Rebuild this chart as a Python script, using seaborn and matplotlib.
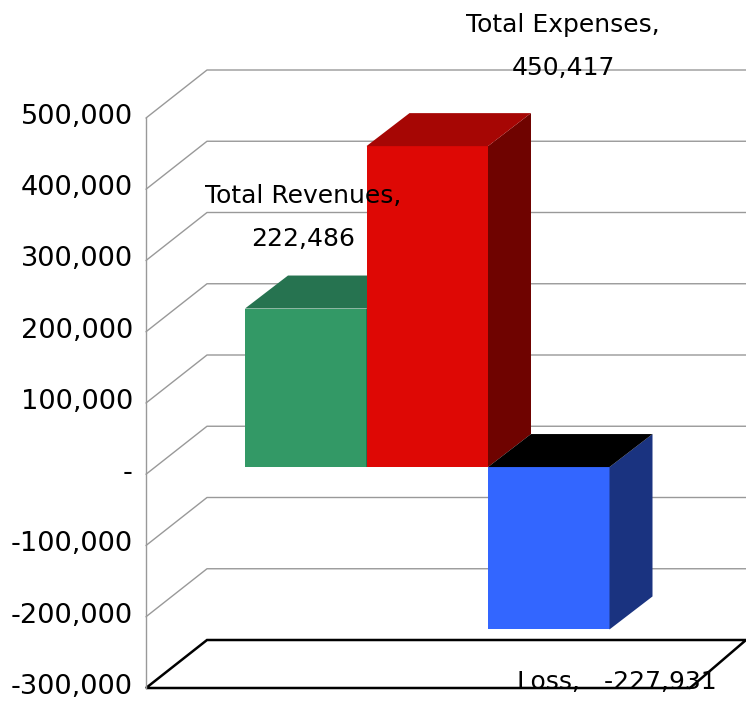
import matplotlib
matplotlib.use("Agg")
import matplotlib.pyplot as plt
from matplotlib.patches import Polygon
from matplotlib.ticker import FuncFormatter
from matplotlib.transforms import ScaledTranslation
import pandas as pd
import seaborn as sns

# DATA
categories = ['Total Revenues', 'Total Expenses', 'Loss']
values = [222486, 450417, -227931]
tick_values = [-300000, -200000, -100000, 0, 100000, 200000, 300000, 400000, 500000]

# COLOURS
front_colors = ['#339966', '#DE0805', '#3366FF']
top_colors = ['#267350', '#A60604', '#000000']
side_colors = ['#1A4D33', '#6F0300', '#1A3380']
grid_color = '#999999'

# GRAPH SPECS (pixels, figure is 746x701 at dpi 100)
dpi = 100
W, H = 746, 701
left, right = 146, 746
top, bottom = 118, 688
px_per_bar = 121.5
bar_left = 245
px_per_unit = (bottom - top) / (tick_values[-1] - tick_values[0])


def xu(px):
    return px / px_per_bar


def yu(px):
    return px / px_per_unit


def draw_walls(ax, x0, x1):
    # grid runs up the left wall and along the back wall
    wall_dx, wall_dy = xu(61), yu(48)
    for t in tick_values[1:]:
        ax.plot([x0, x0 + wall_dx, x1], [t, t + wall_dy, t + wall_dy],
                color=grid_color, lw=1.0, clip_on=False, zorder=1)
    # floor
    t = tick_values[0]
    floor_end = x1 - xu(56)
    ax.plot([floor_end, x0, x0 + wall_dx, x1, floor_end],
            [t, t, t + wall_dy, t + wall_dy, t],
            color='black', lw=1.8, clip_on=False, zorder=2, solid_joinstyle='miter')


def draw_depth(ax, bars, shift):
    # top and side faces come off each bar's own corners
    depth_dx, depth_dy = xu(43), yu(33)
    for bar, top_c, side_c in zip(bars, top_colors, side_colors):
        bx, bw = bar.get_x(), bar.get_width()
        y_hi = max(bar.get_y(), bar.get_y() + bar.get_height())
        y_lo = min(bar.get_y(), bar.get_y() + bar.get_height())
        z = bar.get_zorder()
        face_top = [(bx, y_hi), (bx + depth_dx, y_hi + depth_dy),
                    (bx + bw + depth_dx, y_hi + depth_dy), (bx + bw, y_hi)]
        face_side = [(bx + bw, y_lo), (bx + bw, y_hi),
                     (bx + bw + depth_dx, y_hi + depth_dy), (bx + bw + depth_dx, y_lo + depth_dy)]
        ax.add_patch(Polygon(face_side, closed=True, facecolor=side_c, edgecolor='none',
                             transform=shift, zorder=z, clip_on=False))
        ax.add_patch(Polygon(face_top, closed=True, facecolor=top_c, edgecolor='none',
                             transform=shift, zorder=z, clip_on=False))


def make_chart():
    sns.set_theme(style='white')
    plt.rcParams['font.family'] = ['DejaVu Sans']

    df = pd.DataFrame({'category': categories, 'value': values})

    fig = plt.figure(figsize=(W / dpi, H / dpi), dpi=dpi)
    ax = fig.add_axes([left / W, 1 - bottom / H, (right - left) / W, (bottom - top) / H])
    ax.patch.set_alpha(0)

    sns.barplot(data=df, x='category', y='value', hue='category', palette=front_colors,
                width=1, legend=False, dodge=False, saturation=1, ax=ax)

    x0 = -0.5 - xu(bar_left - left)
    x1 = -0.5 + xu(right - bar_left)
    ax.set_xlim(x0, x1)
    ax.set_ylim(tick_values[0], tick_values[-1])

    # axis
    ax.set_xlabel('')
    ax.set_ylabel('')
    ax.set_xticks([])
    ax.set_yticks(tick_values)
    ax.yaxis.set_major_formatter(FuncFormatter(lambda v, _: '-' if v == 0 else f'{int(v):,}'))
    ax.tick_params(axis='y', left=False, pad=3.5, labelsize=19.6, labelcolor='black')
    for lab in ax.get_yticklabels():
        lab.set_verticalalignment('center')
        lab.set_transform(lab.get_transform() + ScaledTranslation(0, 1.0 / dpi, fig.dpi_scale_trans))
    for s in ['top', 'right', 'bottom']:
        ax.spines[s].set_visible(False)
    ax.spines['left'].set_color(grid_color)
    ax.spines['left'].set_linewidth(1.0)

    draw_walls(ax, x0, x1)

    # bars sit a little behind the front of the floor
    shift = ax.transData + ScaledTranslation(0, 7.2 / dpi, fig.dpi_scale_trans)
    bars = list(ax.patches)
    for i, bar in enumerate(bars):
        bar.set_transform(shift)
        bar.set_clip_on(False)
        bar.set_edgecolor('none')
        bar.set_zorder(3 + i)
    draw_depth(ax, bars, shift)

    # data labels
    offsets = [(-3, 91), (136, 100), (68, -53)]
    for i, (name, val) in enumerate(zip(categories, values)):
        txt = f'{name},\n{val:,}' if val > 0 else f'{name},   {val:,}'
        ax.annotate(txt, xy=(i, val), xycoords=shift, xytext=offsets[i],
                    textcoords='offset pixels', ha='center', va='center',
                    fontsize=18, linespacing=2.0, color='black',
                    annotation_clip=False, zorder=10)

    fig.savefig('out.png', dpi=dpi)


make_chart()
